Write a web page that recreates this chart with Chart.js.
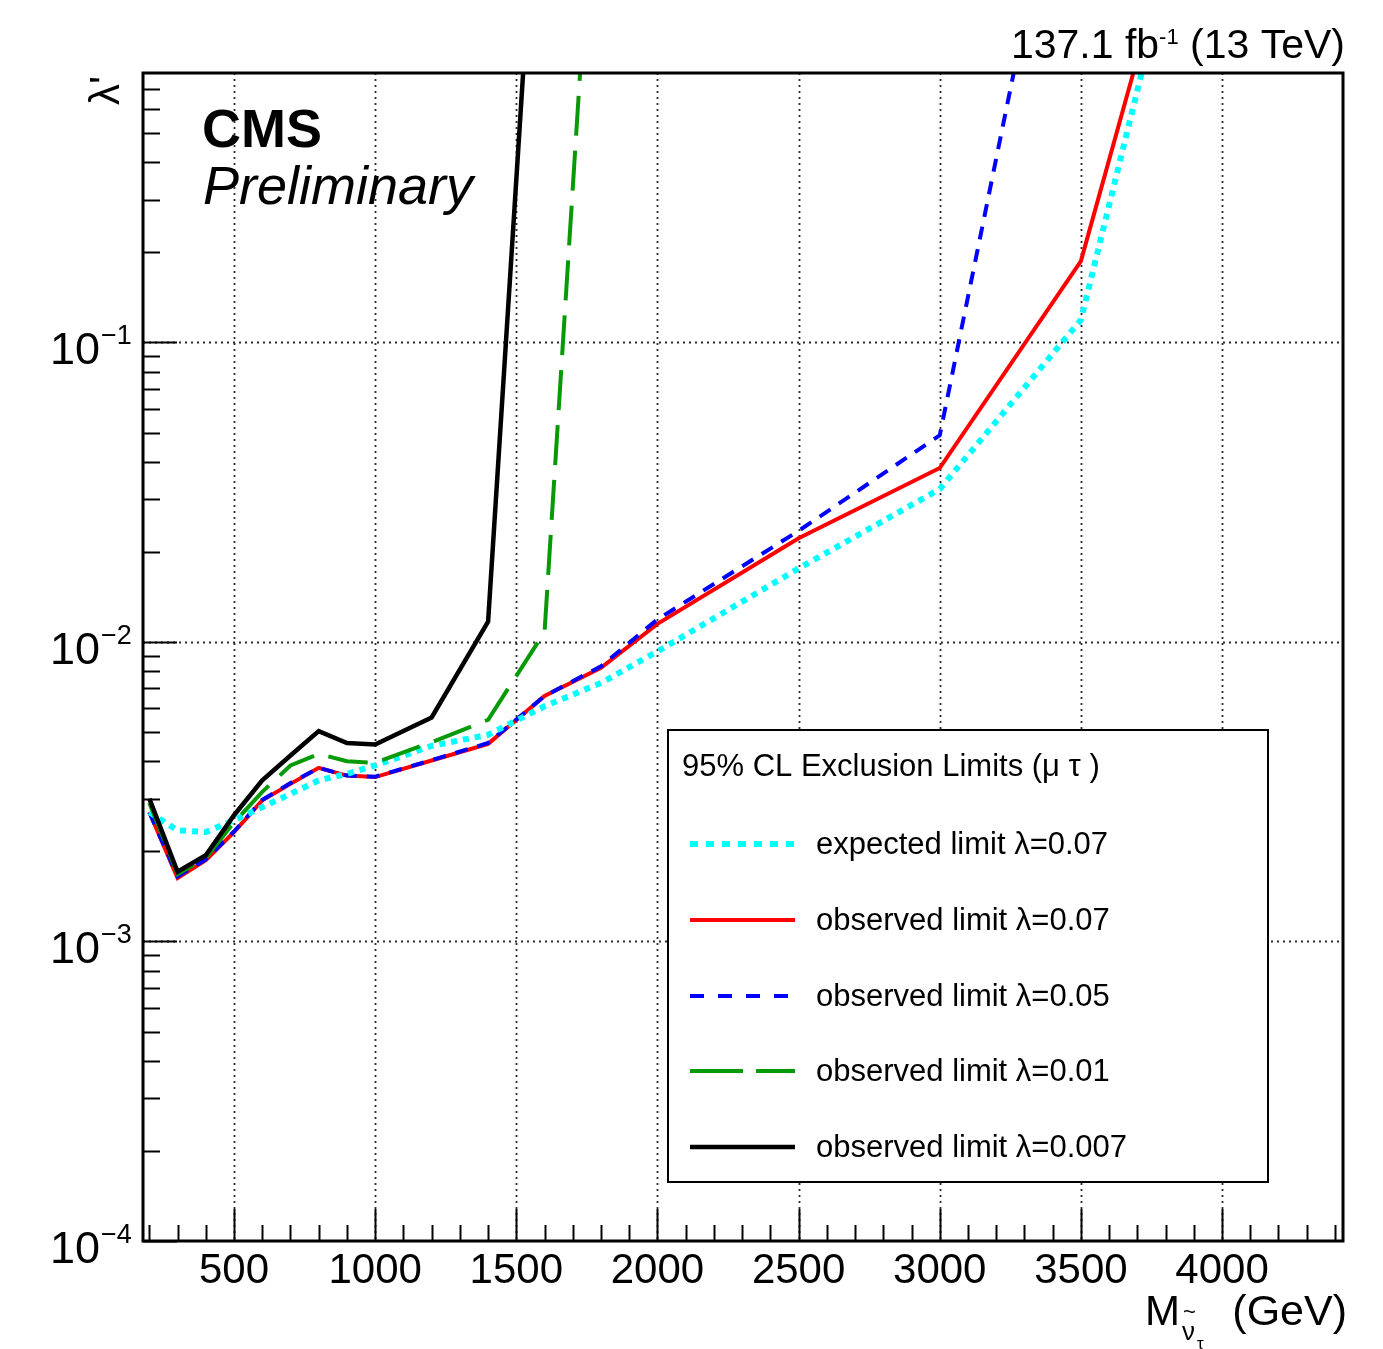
<!DOCTYPE html>
<html>
<head>
<meta charset="utf-8">
<script src="https://cdn.jsdelivr.net/npm/chart.js"></script>
<style>
  html, body { margin: 0; padding: 0; background: #fff; }
  canvas { display: block; }
</style>
</head>
<body>
<canvas id="limitChart" width="1383" height="1349"></canvas>
<script>
// Points de masse (GeV) et limites
const massPoints = [200, 300, 400, 500, 600, 700, 800, 900, 1000, 1200, 1400, 1600, 1800, 2000, 2500, 3000, 3500, 4000];
const expected007 = [0.0027, 0.00235, 0.00232, 0.00254, 0.00281, 0.00311, 0.00345, 0.00363, 0.00387, 0.0045, 0.0049, 0.0061, 0.0073, 0.0093, 0.0176, 0.0324, 0.119, 9.8];
const observed007 = [0.0027, 0.00163, 0.00187, 0.00232, 0.00296, 0.00336, 0.0038, 0.00358, 0.00354, 0.00402, 0.00457, 0.0066, 0.0082, 0.0115, 0.0222, 0.0381, 0.187, 9.2];
const observed005 = [0.0027, 0.00165, 0.00188, 0.00233, 0.00297, 0.00338, 0.0038, 0.00358, 0.00355, 0.00403, 0.0046, 0.0066, 0.0083, 0.0119, 0.0235, 0.049, 10, null];
const observed001 = [0.0029, 0.00168, 0.0019, 0.0025, 0.00316, 0.00387, 0.00423, 0.004, 0.00395, 0.00463, 0.0055, 0.0108, 10, null, null, null, null, null];
const observed0007 = [0.0030, 0.00171, 0.00194, 0.00264, 0.00345, 0.00418, 0.00504, 0.0046, 0.00455, 0.0056, 0.0117, 10.5, null, null, null, null, null, null];

// Graduations
const xTickLabels = [500, 1000, 1500, 2000, 2500, 3000, 3500, 4000];
const yDecades = [-4, -3, -2, -1];
const xRange = [177.5, 4428.5];
const yRange = [1e-4, 0.794];

const FONT = '"Liberation Sans", Arial, Helvetica, sans-serif';

function toPoints(values) {
    return massPoints.map((m, i) => ({ x: m, y: values[i] }));
}

// Grille, cadre, graduations et textes facon ROOT
const rootStyle = {
    id: 'rootStyle',
    beforeDatasetsDraw(chart) {
        const { ctx, chartArea: a, scales: { x, y } } = chart;
        ctx.save();
        ctx.strokeStyle = '#2a2a2a';
        ctx.lineWidth = 1.8;
        ctx.setLineDash([2, 4]);
        xTickLabels.forEach(v => {
            const px = Math.round(x.getPixelForValue(v)) + 0.5;
            ctx.beginPath();
            ctx.moveTo(px, a.top);
            ctx.lineTo(px, a.bottom);
            ctx.stroke();
        });
        yDecades.forEach(e => {
            const py = Math.round(y.getPixelForValue(Math.pow(10, e))) + 0.5;
            if (py >= a.bottom - 1) return;
            ctx.beginPath();
            ctx.moveTo(a.left, py);
            ctx.lineTo(a.right, py);
            ctx.stroke();
        });
        ctx.restore();
    },
    afterDatasetsDraw(chart) {
        const { ctx, chartArea: a, scales: { x, y } } = chart;
        ctx.save();

        // legende
        const box = { left: 668, top: 730, width: 600, height: 452 };
        ctx.fillStyle = '#fff';
        ctx.fillRect(box.left, box.top, box.width, box.height);
        ctx.strokeStyle = '#000';
        ctx.lineWidth = 2;
        ctx.strokeRect(box.left, box.top, box.width, box.height);
        ctx.fillStyle = '#000';
        ctx.font = '31px ' + FONT;
        ctx.textAlign = 'left';
        ctx.textBaseline = 'alphabetic';
        ctx.fillText('95% CL Exclusion Limits (\u03bc \u03c4 )', 682, 776);
        const rowY = [844, 920, 996, 1071, 1147];
        const sampleDash = [[8, 8], null, [14, 14], [53, 13], null];
        chart.data.datasets.forEach((ds, i) => {
            const yy = rowY[i];
            ctx.save();
            ctx.strokeStyle = ds.borderColor;
            ctx.lineWidth = ds.borderWidth;
            ctx.setLineDash(sampleDash[i] || []);
            ctx.lineCap = 'butt';
            ctx.beginPath();
            ctx.moveTo(690, yy);
            ctx.lineTo(795, yy);
            ctx.stroke();
            ctx.restore();
            ctx.fillText(ds.label, 816, yy + 10);
        });

        // cadre
        ctx.strokeStyle = '#000';
        ctx.lineWidth = 3;
        ctx.setLineDash([]);
        ctx.strokeRect(a.left, a.top, a.right - a.left, a.bottom - a.top);

        // graduations x
        ctx.lineWidth = 2;
        for (let m = 200; m <= 4400; m += 100) {
            const px = Math.round(x.getPixelForValue(m)) + 0.5;
            const len = m % 500 === 0 ? 32 : 16;
            ctx.beginPath();
            ctx.moveTo(px, a.bottom);
            ctx.lineTo(px, a.bottom - len);
            ctx.stroke();
        }
        // graduations y
        yDecades.forEach(e => {
            for (let k = 1; k <= 9; k++) {
                const v = k * Math.pow(10, e);
                if (v > yRange[1]) break;
                const py = Math.round(y.getPixelForValue(v)) + 0.5;
                const len = k === 1 ? 34 : 17;
                ctx.beginPath();
                ctx.moveTo(a.left, py);
                ctx.lineTo(a.left + len, py);
                ctx.stroke();
            }
        });

        // etiquettes x
        ctx.fillStyle = '#000';
        ctx.font = '42px ' + FONT;
        ctx.textAlign = 'center';
        xTickLabels.forEach(v => {
            ctx.fillText(String(v), x.getPixelForValue(v), a.bottom + 42);
        });
        // etiquettes y
        yDecades.forEach(e => {
            const py = y.getPixelForValue(Math.pow(10, e));
            ctx.textAlign = 'right';
            ctx.font = '45px ' + FONT;
            ctx.fillText('10', 100, py + 22);
            ctx.textAlign = 'left';
            ctx.font = '27px ' + FONT;
            ctx.fillText('\u2212' + Math.abs(e), 101, py + 2);
        });

        // titre de l'axe x : M_{nu~_tau} (GeV)
        ctx.textAlign = 'left';
        ctx.font = '42px ' + FONT;
        ctx.fillText('M', 1145, 1325);
        ctx.font = '26px ' + FONT;
        ctx.fillText('\u03bd', 1182, 1340);
        ctx.font = '22px ' + FONT;
        ctx.textBaseline = 'middle';
        ctx.fillText('~', 1183, 1313);
        ctx.textBaseline = 'alphabetic';
        ctx.font = '17px ' + FONT;
        ctx.fillText('\u03c4', 1197, 1349);
        ctx.font = '43px ' + FONT;
        ctx.textAlign = 'right';
        ctx.fillText('(GeV)', 1347, 1325);

        // titre de l'axe y
        ctx.save();
        ctx.translate(119, 76);
        ctx.rotate(-Math.PI / 2);
        ctx.textAlign = 'right';
        ctx.font = '42px ' + FONT;
        ctx.fillText('\u03bb\'', 0, 0);
        ctx.restore();

        // luminosite
        const partA = '137.1 fb';
        const partB = '-1';
        const partC = ' (13 TeV)';
        ctx.textAlign = 'left';
        ctx.font = '41px ' + FONT;
        const wA = ctx.measureText(partA).width;
        const wC = ctx.measureText(partC).width;
        ctx.font = '22px ' + FONT;
        const wB = ctx.measureText(partB).width;
        let tx = 1345 - wA - wB - wC;
        ctx.font = '41px ' + FONT;
        ctx.fillText(partA, tx, 58);
        ctx.font = '22px ' + FONT;
        ctx.fillText(partB, tx + wA, 44);
        ctx.font = '41px ' + FONT;
        ctx.fillText(partC, tx + wA + wB, 58);

        // CMS Preliminary
        ctx.font = 'bold 54px ' + FONT;
        ctx.fillText('CMS', 202, 147);
        ctx.font = 'italic 54px ' + FONT;
        ctx.fillText('Preliminary', 203, 204);

        ctx.restore();
    }
};

const limitChart = new Chart(document.getElementById('limitChart').getContext('2d'), {
    type: 'line',
    data: {
        datasets: [
            {
                label: 'expected limit \u03bb=0.07',
                data: toPoints(expected007),
                borderColor: '#00ffff',
                borderWidth: 6,
                borderDash: [6, 6],
                order: 2
            },
            {
                label: 'observed limit \u03bb=0.07',
                data: toPoints(observed007),
                borderColor: '#ff0000',
                borderWidth: 4,
                order: 4
            },
            {
                label: 'observed limit \u03bb=0.05',
                data: toPoints(observed005),
                borderColor: '#0000ff',
                borderWidth: 4,
                borderDash: [13, 10],
                order: 3
            },
            {
                label: 'observed limit \u03bb=0.01',
                data: toPoints(observed001),
                borderColor: '#079a07',
                borderWidth: 4,
                borderDash: [40, 15],
                order: 1
            },
            {
                label: 'observed limit \u03bb=0.007',
                data: toPoints(observed0007),
                borderColor: '#000000',
                borderWidth: 4.5,
                order: 0
            }
        ]
    },
    options: {
        responsive: false,
        animation: false,
        layout: {
            padding: { left: 143, top: 73, right: 40, bottom: 108 }
        },
        elements: {
            point: { radius: 0 },
            line: { tension: 0, borderCapStyle: 'butt', fill: false }
        },
        scales: {
            x: { type: 'linear', display: false, min: xRange[0], max: xRange[1] },
            y: { type: 'logarithmic', display: false, min: yRange[0], max: yRange[1] }
        },
        plugins: {
            legend: { display: false },
            tooltip: { enabled: false }
        }
    },
    plugins: [rootStyle]
});
</script>
</body>
</html>
